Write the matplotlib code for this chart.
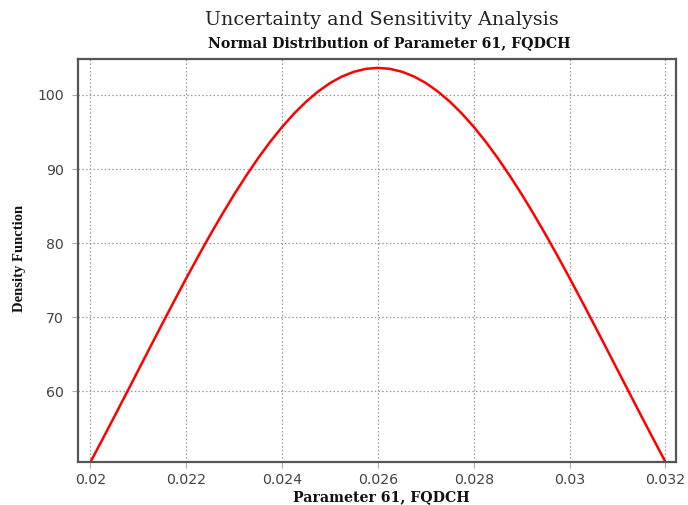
import matplotlib
matplotlib.use("Agg")
import matplotlib.pyplot as plt

# Values
x_vals = [0.02, 0.02025, 0.0205, 0.02075, 0.021, 0.02125, 0.0215, 0.02175,
          0.022, 0.02225, 0.0225, 0.02275, 0.023, 0.02325, 0.0235, 0.02375,
          0.024, 0.02425, 0.0245, 0.02475, 0.025, 0.02525, 0.0255, 0.02575,
          0.026, 0.02625, 0.0265, 0.02675, 0.027, 0.02725, 0.0275, 0.02775,
          0.028, 0.02825, 0.0285, 0.02875, 0.029, 0.02925, 0.0295, 0.02975,
          0.03, 0.03025, 0.0305, 0.03075, 0.031, 0.03125, 0.0315, 0.03175, 0.032]
y_left = [50.45, 53.51, 56.60, 59.73, 62.87, 66.01, 69.13, 72.22,
          75.27, 78.24, 81.13, 83.91, 86.58, 89.10, 91.47, 93.67,
          95.68, 97.49, 99.09, 100.46, 101.60, 102.49, 103.13, 103.52]
y_peak = [103.65]
y_vals = y_left + y_peak + y_left[::-1]

x_ticks = [0.02, 0.022, 0.024, 0.026, 0.028, 0.03, 0.032]
x_tick_labels = ["0.02", "0.022", "0.024", "0.026", "0.028", "0.03", "0.032"]
y_ticks = [60, 70, 80, 90, 100]

title1 = "Uncertainty and Sensitivity Analysis"
title2 = "Normal Distribution of Parameter 61, FQDCH"
xlabel = "Parameter 61, FQDCH"
ylabel = "Density Function"

fig = plt.figure(figsize=(6.88, 5.05), dpi=100)
ax = fig.add_axes([0.1134, 0.0851, 0.8692, 0.7981])

ax.plot(x_vals, y_vals, color="#ff0000", linewidth=1.8, solid_joinstyle="round")

ax.set_xlim(0.01974, 0.03222)
ax.set_ylim(50.45, 104.85)
ax.set_xticks(x_ticks)
ax.set_xticklabels(x_tick_labels)
ax.set_yticks(y_ticks)

ax.grid(True, color="#999999", linestyle=(0, (1.2, 1.8)), linewidth=0.9)
for s in ax.spines.values():
    s.set_color("#555555")
    s.set_linewidth(1.6)
ax.tick_params(axis="both", direction="out", length=4, width=0.8, color="#aaaaaa",
               labelsize=10.2, labelcolor="#444444", pad=4)
ax.tick_params(axis="y", pad=6)
for lab in ax.get_xticklabels() + ax.get_yticklabels():
    lab.set_family("DejaVu Sans")

fig.text(0.5545, 0.961, title1, ha="center", va="center",
         fontsize=13.8, family="DejaVu Serif", color="#222222")
fig.text(0.5655, 0.915, title2, ha="center", va="center",
         fontsize=10.2, family="DejaVu Serif", fontweight="bold", color="#111111")
fig.text(0.555, 0.016, xlabel, ha="center", va="center",
         fontsize=10.2, family="DejaVu Serif", fontweight="bold", color="#111111")
fig.text(0.028, 0.489, ylabel, ha="center", va="center", rotation=90,
         fontsize=10.5, family="Liberation Serif", fontweight="bold", color="#111111")

fig.savefig("out.png", dpi=100)
